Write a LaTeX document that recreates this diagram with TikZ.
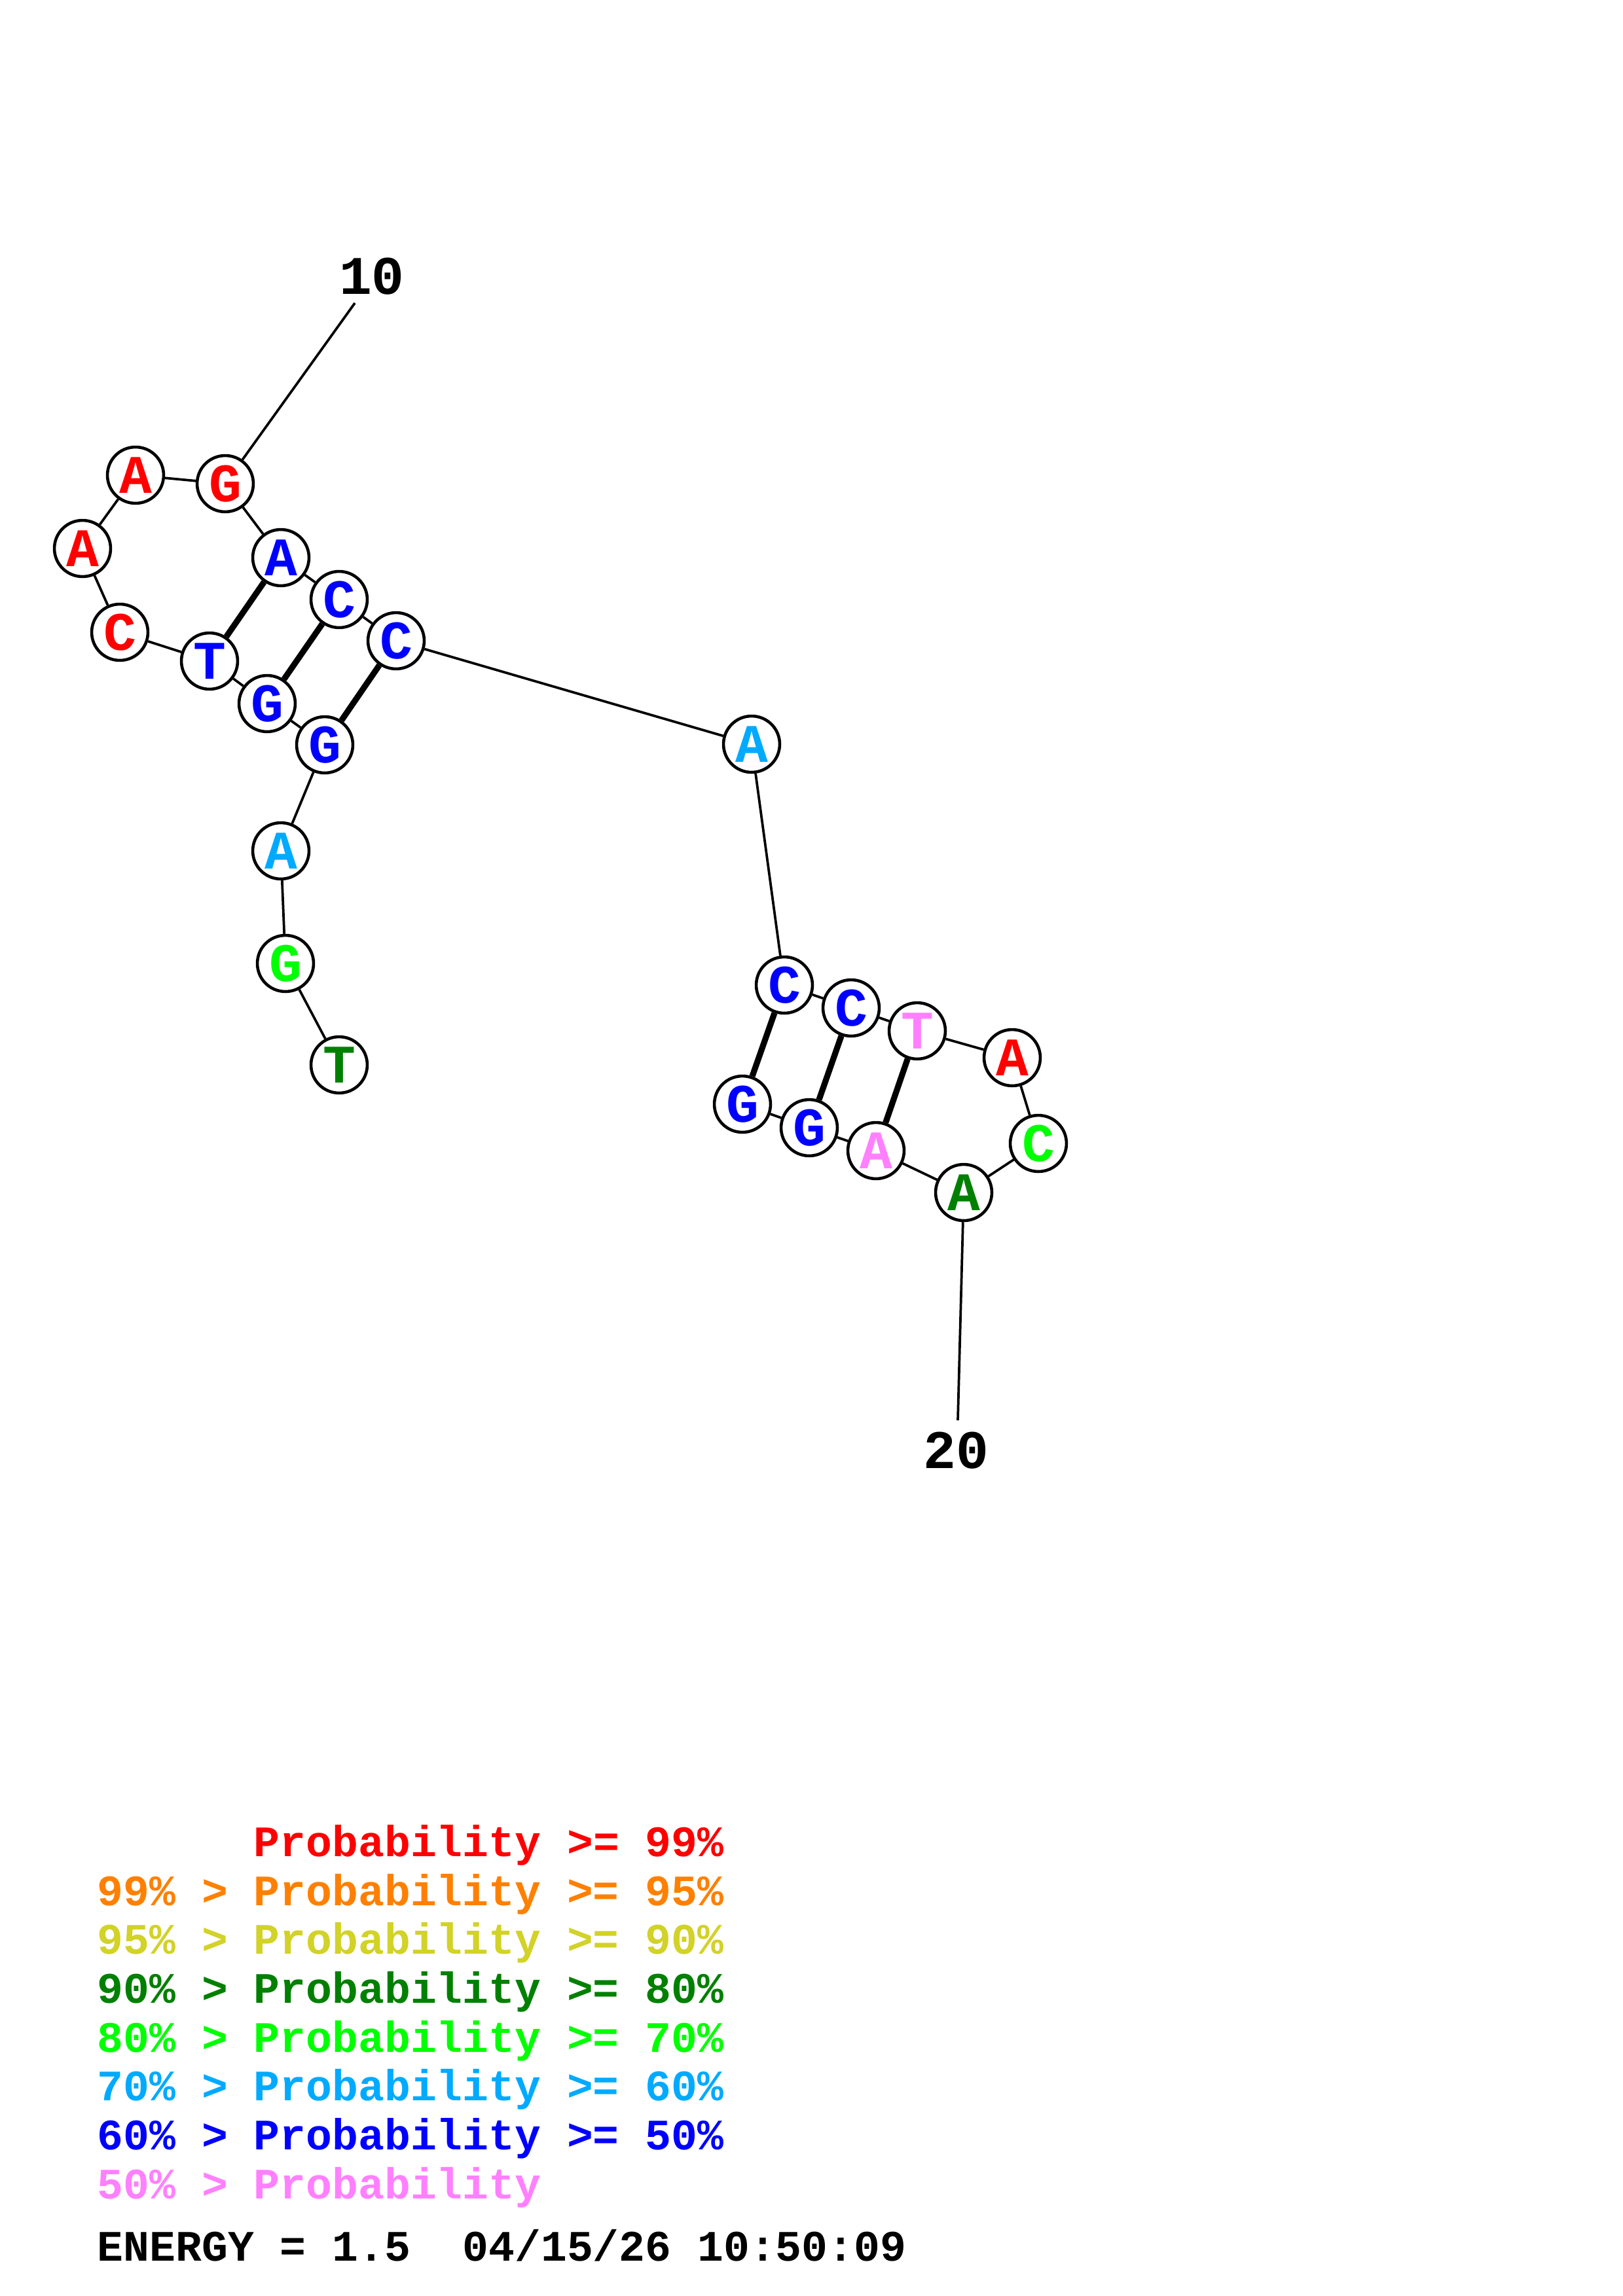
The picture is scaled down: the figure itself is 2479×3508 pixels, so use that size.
\documentclass[tikz,border=0pt]{standalone}
\usepackage{fontspec}
\setmonofont{Liberation Mono}
\usetikzlibrary{positioning}
\definecolor{pHi}{RGB}{255,0,0}
\definecolor{pNinetyFive}{RGB}{255,128,0}
\definecolor{pNinety}{RGB}{210,210,40}
\definecolor{pEighty}{RGB}{0,128,0}
\definecolor{pSeventy}{RGB}{0,255,0}
\definecolor{pSixty}{RGB}{0,170,255}
\definecolor{pFifty}{RGB}{0,0,255}
\definecolor{pLow}{RGB}{255,128,255}
\newcommand{\nucfont}{\ttfamily\bfseries\fontsize{20pt}{24pt}\selectfont}
\newcommand{\keyfont}{\ttfamily\bfseries\fontsize{16pt}{19pt}\selectfont}

\begin{document}
\begin{tikzpicture}[x=0.0846667mm, y=-0.0846667mm,
    nuc/.style={circle, draw, fill=white, line width=1.1pt, minimum size=20.7pt, inner sep=0pt, font=\nucfont},
    link/.style={line width=0.9pt},
    pair/.style={line width=2.2pt},
    key/.style={anchor=base west, inner sep=0pt, font=\keyfont}]
      \useasboundingbox (0,0) rectangle (2479,3508);

      % Define nodes
      \node[nuc, text=pEighty] (1) at (518,1627) {T};
      \node[nuc, text=pSeventy] (2) at (436,1472) {G};
      \node[nuc, text=pSixty] (3) at (429,1300) {A};
      \node[nuc, text=pFifty] (4) at (496,1138) {G};
      \node[nuc, text=pFifty] (5) at (408,1075) {G};
      \node[nuc, text=pFifty] (6) at (320,1010) {T};
      \node[nuc, text=pHi] (7) at (183,966) {C};
      \node[nuc, text=pHi] (8) at (126,838) {A};
      \node[nuc, text=pHi] (9) at (207,726) {A};
      \node[nuc, text=pHi] (10) at (344,739) {G};
      \node[nuc, text=pFifty] (11) at (429,852) {A};
      \node[nuc, text=pFifty] (12) at (518,916) {C};
      \node[nuc, text=pFifty] (13) at (605,979) {C};
      \node[nuc, text=pSixty] (14) at (1148,1137) {A};
      \node[nuc, text=pFifty] (15) at (1198,1505) {C};
      \node[nuc, text=pFifty] (16) at (1300,1540) {C};
      \node[nuc, text=pLow] (17) at (1401,1575) {T};
      \node[nuc, text=pHi] (18) at (1546,1616) {A};
      \node[nuc, text=pSeventy] (19) at (1586,1747) {C};
      \node[nuc, text=pEighty] (20) at (1472,1822) {A};
      \node[nuc, text=pLow] (21) at (1338,1758) {A};
      \node[nuc, text=pFifty] (22) at (1236,1723) {G};
      \node[nuc, text=pFifty] (23) at (1134,1687) {G};

      % Number labels
      \coordinate (tick10) at (542,463);
      \coordinate (tick20) at (1463,2170);
      \node[inner sep=0pt, font=\nucfont] (lab10) at (568,422) {10};
      \node[inner sep=0pt, font=\nucfont] (lab20) at (1460,2216) {20};

      % Draw backbone
      \draw[link] (1) -- (2) -- (3) -- (4);
      \draw[link] (4) -- (5);
      \draw[link] (5) -- (6);
      \draw[link] (6) -- (7);
      \draw[link] (7) -- (8);
      \draw[link] (8) -- (9);
      \draw[link] (9) -- (10);
      \draw[link] (10) -- (11);
      \draw[link] (11) -- (12);
      \draw[link] (12) -- (13);
      \draw[link] (13) -- (14);
      \draw[link] (14) -- (15);
      \draw[link] (15) -- (16);
      \draw[link] (16) -- (17);
      \draw[link] (17) -- (18);
      \draw[link] (18) -- (19);
      \draw[link] (19) -- (20);
      \draw[link] (20) -- (21);
      \draw[link] (21) -- (22);
      \draw[link] (22) -- (23);
      \draw[link] (10) -- (tick10);
      \draw[link] (20) -- (tick20);

      % Draw pairs
      \draw[pair] (4) -- (13);
      \draw[pair] (5) -- (12);
      \draw[pair] (6) -- (11);
      \draw[pair] (15) -- (23);
      \draw[pair] (16) -- (22);
      \draw[pair] (17) -- (21);

      % Legend
      \node[key, text=pHi] (k1) at (148,2836) {\phantom{99\% > }Probability >= 99\%};
      \node[key, text=pNinetyFive] (k2) at (148,2911) {99\% > Probability >= 95\%};
      \node[key, text=pNinety] (k3) at (148,2985) {95\% > Probability >= 90\%};
      \node[key, text=pEighty] (k4) at (148,3060) {90\% > Probability >= 80\%};
      \node[key, text=pSeventy] (k5) at (148,3135) {80\% > Probability >= 70\%};
      \node[key, text=pSixty] (k6) at (148,3209) {70\% > Probability >= 60\%};
      \node[key, text=pFifty] (k7) at (148,3284) {60\% > Probability >= 50\%};
      \node[key, text=pLow] (k8) at (148,3359) {50\% > Probability};
      \node[key] (energy) at (148,3454) {ENERGY = 1.5\ \ 04/15/26 10:50:09};
\end{tikzpicture}
\end{document}
